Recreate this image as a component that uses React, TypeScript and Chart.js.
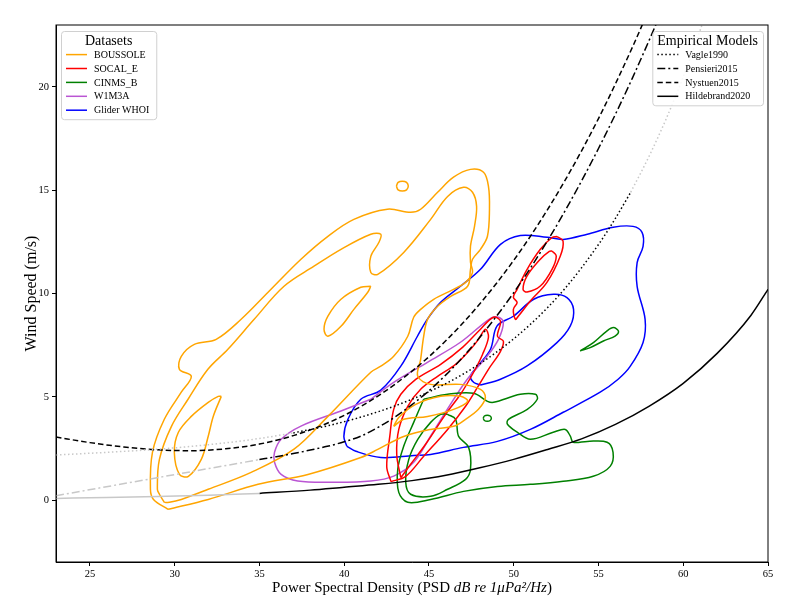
import React, { useEffect, useRef } from "react";
import { Chart, registerables } from "chart.js";

Chart.register(...registerables);

const FONT = '"Liberation Serif", "DejaVu Serif", serif';

// ---------- axes ----------
const xTicks = [25, 30, 35, 40, 45, 50, 55, 60, 65];
const yTicks = [0, 5, 10, 15, 20];

// ---------- legend labels ----------
const datasetNames = ["BOUSSOLE", "SOCAL_E", "CINMS_B", "W1M3A", "Glider WHOI"];
const datasetColors = ["#FFA500", "#FF0000", "#008000", "#BA55D3", "#0000FF"];
const modelNames = ["Vagle1990", "Pensieri2015", "Nystuen2015", "Hildebrand2020"];

// ---------- KDE contour outlines (PSD, wind speed) ----------
const boussoleOuter: number[][] = [
  [29.61, -0.45], [28.75, 0.03], [28.57, 0.52], [28.69, 2.31], [29.39, 3.91], [30.39, 5.22], [30.98, 5.99],
  [30.28, 6.33], [30.39, 6.96], [31.16, 7.54], [32.45, 7.78], [33.92, 8.75], [35.51, 10.06], [37.45, 11.66],
  [39.04, 12.77], [40.57, 13.59], [42.55, 14.08], [43.92, 13.93], [44.51, 14.08], [45.51, 14.9], [46.45, 15.63],
  [47.45, 16.01], [48.22, 15.87], [48.51, 15.19], [48.57, 14.08], [48.45, 12.77], [48.04, 12.14], [47.57, 11.66],
  [47.45, 11.17], [47.28, 10.35], [46.28, 9.86], [45.51, 9.38], [44.92, 8.75], [44.69, 7.93], [44.51, 6.81],
  [44.34, 5.99], [45.1, 5.6], [46.86, 5.6], [48.04, 5.36], [48.33, 4.97], [47.92, 4.39], [47.16, 3.91],
  [46.45, 3.57], [45.1, 3.42], [43.51, 3.08], [41.98, 2.45], [40.98, 2.06], [37.86, 1.24], [34.92, 0.76],
  [31.98, 0.03],
];
const boussoleMid: number[][] = [
  [29.39, -0.11], [29.1, 0.28], [28.98, 0.52], [29.1, 1.97], [29.81, 3.57], [30.79, 4.88], [31.96, 6.33],
  [33.14, 7.3], [34.69, 8.75], [36.45, 10.35], [38.22, 11.32], [39.81, 12.14], [41.57, 12.87], [42.16, 12.87],
  [42.05, 12.48], [41.57, 11.8], [41.57, 11.02], [41.98, 10.93], [43.51, 11.99], [45.1, 13.59], [46.1, 14.7],
  [47.04, 15.14], [47.57, 14.9], [47.81, 14.22], [47.69, 13.26], [47.45, 12.29], [47.45, 11.51], [47.57, 11.02],
  [47.16, 10.54], [46.45, 10.2], [45.28, 9.72], [44.51, 9.23], [44.1, 8.85], [43.75, 7.93], [42.92, 6.96],
  [42.16, 6.48], [41.57, 6.19], [39.04, 4.05], [37.04, 2.46], [34.51, 1.34], [31.98, 0.52], [30.39, 0.03],
  [29.69, -0.11],
];
const boussoleTear: number[][] = [
  [41.57, 10.35], [41.39, 10.06], [40.57, 9.23], [39.81, 8.41], [39.04, 7.93], [38.81, 8.27], [39.04, 8.9],
  [39.81, 9.72], [40.98, 10.3],
];
const boussoleLow: number[][] = [
  [32.75, 5.02], [32.28, 4.06], [31.98, 3.09], [31.57, 1.97], [30.81, 1.15], [30.28, 1.24], [29.98, 2.31],
  [30.22, 3.28], [30.98, 4.05], [31.98, 4.73], [32.57, 5.02],
];
const boussoleDot: number[][] = [
  [43.08, 15.2], [43.18, 15.38], [43.43, 15.44], [43.68, 15.38], [43.78, 15.2], [43.68, 15.02], [43.43, 14.96],
  [43.18, 15.02],
];
const boussoleLobe: number[][] = [
  [42.92, 3.57], [43.51, 3.91], [44.92, 4.05], [46.45, 4.39], [47.28, 4.78], [46.86, 5.02], [45.69, 5.02],
  [44.22, 4.63], [43.22, 4.0],
];

const socalOuter: number[][] = [
  [42.76, 0.89], [42.51, 1.61], [42.69, 3.08], [42.92, 4.39], [43.34, 5.12], [44.22, 5.84], [45.69, 6.57],
  [46.98, 7.39], [48.04, 8.27], [48.81, 8.85], [49.22, 8.66], [49.04, 7.93], [49.39, 7.69], [49.22, 7.2],
  [48.51, 6.33], [47.86, 5.45], [47.16, 4.54], [46.1, 3.42], [44.69, 2.12], [43.63, 1.15],
];
const socalMid: number[][] = [
  [43.34, 1.08], [43.1, 2.19], [43.22, 3.42], [43.75, 4.54], [44.51, 5.36], [45.51, 5.99], [46.57, 6.57],
  [47.45, 7.3], [47.92, 7.78], [48.33, 8.27], [48.51, 7.88], [48.16, 7.05], [47.57, 6.09], [46.86, 5.12],
  [45.98, 4.15], [44.8, 2.7], [43.92, 1.73],
];
const socalUpper: number[][] = [
  [52.55, 12.76], [52.91, 12.54], [52.75, 11.82], [51.96, 10.54], [50.98, 9.64], [50.28, 8.91], [50.1, 8.75],
  [49.98, 9.23], [50.2, 9.57], [49.98, 9.82], [50.2, 10.2], [50.79, 11.17], [51.57, 12.14], [52.26, 12.71],
];
const socalUpperInner: number[][] = [
  [52.26, 12.06], [52.51, 11.82], [52.26, 11.17], [51.57, 10.36], [50.79, 10.07], [50.55, 10.2], [50.79, 10.85],
  [51.57, 11.66], [52.1, 12.04],
];

const cinmsOuter: number[][] = [
  [44.69, 4.88], [46.1, 5.12], [47.63, 5.17], [48.45, 4.78], [48.81, 4.73], [50.39, 5.12], [51.28, 5.12],
  [51.39, 4.88], [50.8, 4.39], [49.69, 3.91], [49.63, 3.67], [50.22, 3.28], [50.98, 2.94], [52.33, 3.28],
  [53.04, 3.42], [53.34, 3.09], [53.51, 2.8], [54.34, 2.84], [55.51, 2.8], [55.86, 2.31], [55.69, 1.63],
  [54.69, 1.15], [52.92, 0.91], [50.98, 0.76], [49.04, 0.66], [47.04, 0.42], [45.1, 0.03], [43.75, -0.11],
  [43.22, 0.37], [43.16, 1.49], [43.51, 2.6], [44.1, 3.76],
];
const cinmsInner: number[][] = [
  [46.1, 4.15], [46.57, 3.91], [46.75, 3.08], [47.34, 2.55], [47.45, 1.49], [47.16, 1.0], [46.1, 0.52],
  [45.1, 0.18], [43.92, 0.28], [43.63, 0.86], [43.81, 1.97], [44.34, 2.94], [45.1, 3.76], [45.69, 4.15],
];
const cinmsDot: number[][] = [
  [48.2, 3.96], [48.27, 4.07], [48.44, 4.11], [48.61, 4.07], [48.68, 3.96], [48.61, 3.85], [48.44, 3.81],
  [48.27, 3.85],
];
const cinmsTear: number[][] = [
  [53.92, 7.22], [54.7, 7.62], [55.49, 8.18], [55.88, 8.35], [56.18, 8.18], [55.98, 7.94], [55.29, 7.7],
  [54.51, 7.38],
];

const w1m3aOuter: number[][] = [
  [41.57, 4.88], [39.81, 4.31], [37.45, 3.58], [36.28, 2.94], [35.89, 2.31], [35.89, 1.83], [36.28, 1.24],
  [37.26, 0.92], [39.39, 0.86], [41.57, 0.92], [42.92, 1.16], [44.1, 1.83], [45.1, 3.1], [46.08, 4.39],
  [47.26, 5.85], [48.44, 6.97], [49.1, 7.78], [49.39, 8.61], [49.1, 8.85], [48.63, 8.8], [46.86, 7.64],
  [44.91, 6.67], [42.92, 5.7],
];

const gliderOuter: number[][] = [
  [40.16, 2.6], [39.98, 3.08], [40.22, 3.91], [40.98, 4.88], [42.16, 5.32], [43.34, 6.48], [44.32, 7.93],
  [44.9, 8.75], [45.69, 9.57], [46.86, 10.35], [48.04, 11.17], [49.22, 12.38], [50.39, 12.81], [51.98, 12.72],
  [52.92, 12.62], [54.34, 12.87], [55.87, 13.21], [57.04, 13.25], [57.57, 12.96], [57.63, 12.28], [57.28, 11.5],
  [57.28, 10.35], [57.75, 8.75], [57.63, 7.63], [56.87, 6.47], [56.16, 5.85], [55.1, 5.22], [52.92, 4.25],
  [50.98, 3.42], [49.04, 2.84], [47.04, 2.55], [45.1, 2.21], [44.1, 2.16], [42.16, 2.06], [40.69, 2.36],
];
const gliderInner: number[][] = [
  [48.04, 5.57], [49.22, 5.85], [50.79, 6.49], [52.55, 7.62], [53.34, 8.43], [53.53, 9.23], [53.14, 9.8],
  [52.35, 9.96], [51.18, 9.72], [50.0, 8.91], [49.02, 8.43], [48.63, 7.3], [47.9, 6.5], [47.45, 6.0],
  [47.65, 5.69],
];

// ---------- empirical model curves (PSD, wind speed) ----------
const vagleLow: number[][] = [[23, 2.18], [26, 2.31], [29, 2.46], [32, 2.68], [35, 2.98], [37, 3.25]];
const vagleFit: number[][] = [
  [37, 3.25], [39, 3.59], [41, 4.02], [43, 4.56], [45, 5.24], [47, 6.09], [49, 7.17], [51, 8.52],
  [53, 10.22], [55, 12.37], [56, 13.64], [56.9, 14.9],
];
const vagleHigh: number[][] = [[56.9, 14.9], [58, 16.67], [59, 18.47], [60, 20.49], [61, 22.75], [61.5, 23.98]];

const pensieriLow: number[][] = [[23, 0.21], [35, 1.96]];
const pensieriFit: number[][] = [
  [35, 1.96], [36, 2.1], [37, 2.25], [38, 2.42], [39, 2.6], [40, 2.82], [41, 3.1], [42, 3.52], [43, 4.02],
  [44, 4.62], [45, 5.29], [46, 6.06], [47, 6.92], [48, 7.88], [49, 8.92], [50, 10.04], [51, 11.25],
  [52, 12.56], [53, 13.96], [54, 15.45], [55, 17.02], [56, 18.68], [57, 20.43], [58, 22.28], [58.5, 23.24],
];

const nystuenFit: number[][] = [
  [23, 3.05], [25, 2.78], [27, 2.57], [29, 2.43], [31, 2.39], [33, 2.48], [35, 2.71], [37, 3.12], [39, 3.72],
  [41, 4.54], [43, 5.61], [45, 6.94], [47, 8.57], [49, 10.51], [51, 12.79], [53, 15.44], [55, 18.47],
  [57, 21.92], [58, 23.8],
];

const hildebrandLow: number[][] = [[23, 0.08], [26, 0.12], [29, 0.17], [32, 0.23], [35, 0.32]];
const hildebrandFit: number[][] = [
  [35, 0.32], [38, 0.48], [40, 0.62], [42, 0.76], [44, 0.94], [46, 1.2], [48, 1.56], [50, 1.97], [52, 2.45],
  [54, 2.96], [56, 3.66], [58, 4.55], [60, 5.65], [62, 7.1], [64, 8.95], [65, 10.2],
];

// ---------- styles ----------
const DOT = [1.5, 2.5];
const DASH_DOT = [8, 3, 2, 3];
const DASH = [5.5, 3];
const LIGHT = "#c8c8c8";
const modelDashes = [DOT, DASH_DOT, DASH, []];

const toPts = (pts: number[][]) => pts.map(([x, y]) => ({ x, y }));
const closed = (pts: number[][]) => toPts([...pts, pts[0]]);

function contour(pts: number[][], color: string) {
  return {
    data: closed(pts),
    showLine: true,
    borderColor: color,
    borderWidth: 1.5,
    pointRadius: 0,
    tension: 0.35,
    fill: false,
  };
}
function model(pts: number[][], color: string, dash: number[]) {
  return {
    data: toPts(pts),
    showLine: true,
    borderColor: color,
    borderWidth: 1.5,
    borderDash: dash,
    pointRadius: 0,
    cubicInterpolationMode: "monotone",
    fill: false,
  };
}

function drawLegend(
  ctx: CanvasRenderingContext2D,
  anchorX: number,
  top: number,
  alignRight: boolean,
  title: string,
  items: { label: string; color: string; dash: number[] }[]
) {
  ctx.save();
  ctx.font = `14px ${FONT}`;
  const titleW = ctx.measureText(title).width;
  ctx.font = `10px ${FONT}`;
  let maxW = 0;
  items.forEach((it) => (maxW = Math.max(maxW, ctx.measureText(it.label).width)));
  const w = Math.max(titleW + 10, 33 + maxW + 7);
  const h = 23.6 + (items.length - 1) * 13.9 + 9;
  const left = alignRight ? anchorX - w : anchorX;
  ctx.beginPath();
  if ((ctx as any).roundRect) (ctx as any).roundRect(left + 0.5, top + 0.5, w, h, 3);
  else ctx.rect(left + 0.5, top + 0.5, w, h);
  ctx.fillStyle = "rgba(255,255,255,0.85)";
  ctx.fill();
  ctx.strokeStyle = "#d0d0d0";
  ctx.lineWidth = 1;
  ctx.stroke();
  ctx.fillStyle = "#000";
  ctx.textBaseline = "middle";
  ctx.textAlign = "center";
  ctx.font = `14px ${FONT}`;
  ctx.fillText(title, left + w / 2, top + 10);
  ctx.textAlign = "left";
  ctx.font = `10px ${FONT}`;
  items.forEach((it, i) => {
    const y = top + 23.6 + i * 13.9;
    ctx.beginPath();
    ctx.setLineDash(it.dash);
    ctx.strokeStyle = it.color;
    ctx.lineWidth = 1.5;
    ctx.moveTo(left + 5, y);
    ctx.lineTo(left + 26, y);
    ctx.stroke();
    ctx.setLineDash([]);
    ctx.fillStyle = "#000";
    ctx.fillText(it.label, left + 33, y + 0.5);
  });
  ctx.restore();
}

const overlayPlugin = {
  id: "overlay",
  afterDraw(chart: any) {
    const ctx: CanvasRenderingContext2D = chart.ctx;
    const a = chart.chartArea;
    ctx.save();
    ctx.strokeStyle = "#000";
    ctx.lineWidth = 1;
    ctx.strokeRect(a.left, a.top, a.right - a.left, a.bottom - a.top);

    drawLegend(
      ctx,
      a.left + 5,
      a.top + 6,
      false,
      "Datasets",
      datasetNames.map((n, i) => ({ label: n, color: datasetColors[i], dash: [] }))
    );
    drawLegend(
      ctx,
      a.right - 5,
      a.top + 6,
      true,
      "Empirical Models",
      modelNames.map((n, i) => ({ label: n, color: "#000", dash: modelDashes[i] }))
    );

    // x axis title with italic unit part
    const parts = [
      { t: "Power Spectral Density (PSD ", it: false },
      { t: "dB re 1\u03bcPa\u00b2/Hz", it: true },
      { t: ")", it: false },
    ];
    const fs = 15;
    let total = 0;
    parts.forEach((p) => {
      ctx.font = `${p.it ? "italic " : ""}${fs}px ${FONT}`;
      total += ctx.measureText(p.t).width;
    });
    let x = (a.left + a.right) / 2 - total / 2;
    ctx.fillStyle = "#000";
    ctx.textBaseline = "alphabetic";
    ctx.textAlign = "left";
    parts.forEach((p) => {
      ctx.font = `${p.it ? "italic " : ""}${fs}px ${FONT}`;
      ctx.fillText(p.t, x, 592);
      x += ctx.measureText(p.t).width;
    });

    // y axis title
    ctx.translate(36, (a.top + a.bottom) / 2);
    ctx.rotate(-Math.PI / 2);
    ctx.font = `16px ${FONT}`;
    ctx.textAlign = "center";
    ctx.textBaseline = "alphabetic";
    ctx.fillText("Wind Speed (m/s)", 0, 0);
    ctx.restore();
  },
};

export default function App() {
  const ref = useRef<HTMLCanvasElement>(null);
  useEffect(() => {
    const datasets: any[] = [
      model(vagleLow, LIGHT, DOT),
      model(vagleFit, "#000", DOT),
      model(vagleHigh, LIGHT, DOT),
      model(pensieriLow, LIGHT, DASH_DOT),
      model(pensieriFit, "#000", DASH_DOT),
      model(nystuenFit, "#000", DASH),
      model(hildebrandLow, LIGHT, []),
      model(hildebrandFit, "#000", []),
      contour(boussoleOuter, datasetColors[0]),
      contour(boussoleMid, datasetColors[0]),
      contour(boussoleTear, datasetColors[0]),
      contour(boussoleLow, datasetColors[0]),
      contour(boussoleDot, datasetColors[0]),
      contour(boussoleLobe, datasetColors[0]),
      contour(socalOuter, datasetColors[1]),
      contour(socalMid, datasetColors[1]),
      contour(socalUpper, datasetColors[1]),
      contour(socalUpperInner, datasetColors[1]),
      contour(cinmsOuter, datasetColors[2]),
      contour(cinmsInner, datasetColors[2]),
      contour(cinmsDot, datasetColors[2]),
      contour(cinmsTear, datasetColors[2]),
      contour(w1m3aOuter, datasetColors[3]),
      contour(gliderOuter, datasetColors[4]),
      contour(gliderInner, datasetColors[4]),
    ];
    const tickFont = { family: FONT, size: 10.5 };
    const chart = new Chart(ref.current as HTMLCanvasElement, {
      type: "scatter",
      data: { datasets },
      options: {
        animation: false,
        responsive: true,
        maintainAspectRatio: false,
        events: [],
        layout: { padding: { left: 0, right: 32, top: 25, bottom: 0 } },
        plugins: { legend: { display: false }, tooltip: { enabled: false } },
        scales: {
          x: {
            type: "linear",
            min: 23,
            max: 65,
            afterBuildTicks: (s: any) => {
              s.ticks = xTicks.map((v) => ({ value: v }));
            },
            afterFit: (s: any) => {
              s.height = 47;
            },
            grid: { display: true, drawOnChartArea: false, drawTicks: true, tickLength: 4, color: "#000", lineWidth: 1 },
            border: { display: true, color: "#000", width: 1 },
            ticks: { color: "#000", font: tickFont, padding: 2, maxRotation: 0, autoSkip: false, callback: (v: any) => String(v) },
          },
          y: {
            type: "linear",
            min: -3,
            max: 23,
            afterBuildTicks: (s: any) => {
              s.ticks = yTicks.map((v) => ({ value: v }));
            },
            afterFit: (s: any) => {
              s.width = 56;
            },
            grid: { display: true, drawOnChartArea: false, drawTicks: true, tickLength: 4, color: "#000", lineWidth: 1 },
            border: { display: true, color: "#000", width: 1 },
            ticks: { color: "#000", font: tickFont, padding: 3, autoSkip: false, callback: (v: any) => String(v) },
          },
        },
      } as any,
      plugins: [overlayPlugin],
    });
    return () => chart.destroy();
  }, []);
  return (
    <div style={{ position: "fixed", left: 0, top: 0, width: 800, height: 609, background: "#fff" }}>
      <canvas ref={ref} />
    </div>
  );
}
